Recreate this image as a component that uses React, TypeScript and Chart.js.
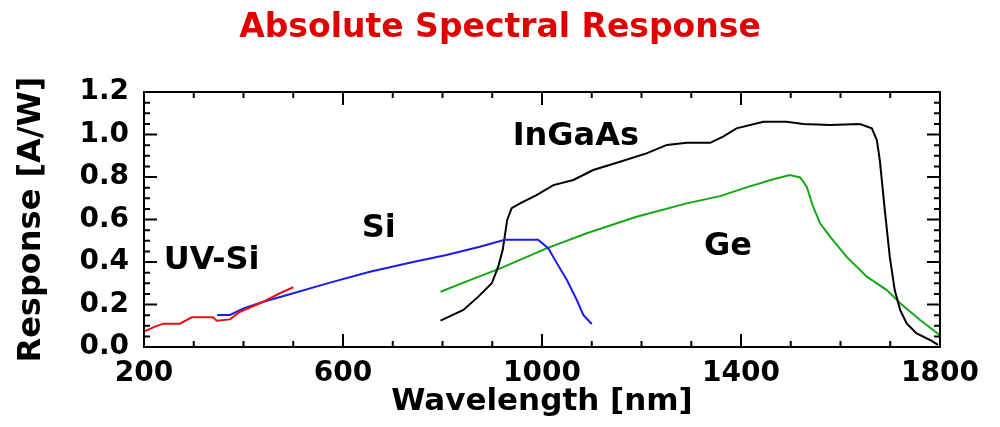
import React, { useEffect, useRef } from "react";
import { Chart, registerables } from "chart.js";

Chart.register(...registerables);

const FONT = "'DejaVu Sans', 'Liberation Sans', sans-serif";

// UV-enhanced silicon
const uvSiNm = [200, 222, 239, 272, 296, 339, 346, 373, 393, 440, 473, 500];
const uvSiResp = [0.072, 0.096, 0.11, 0.11, 0.14, 0.14, 0.124, 0.13, 0.166, 0.213, 0.253, 0.281];

// Silicon
const siNm = [347, 373, 400, 440, 500, 574, 654, 741, 808, 875, 925, 992, 1013, 1026, 1050, 1070, 1083, 1100];
const siResp = [0.151, 0.151, 0.182, 0.213, 0.253, 0.303, 0.354, 0.4, 0.433, 0.472, 0.505, 0.505, 0.464, 0.41, 0.315, 0.221, 0.151, 0.108];

// Germanium
const geNm = [796, 855, 916, 1009, 1090, 1190, 1291, 1358, 1411, 1465, 1498, 1519, 1532, 1545, 1559, 1579, 1612, 1653, 1693, 1720, 1760, 1800];
const geResp = [0.26, 0.315, 0.37, 0.464, 0.535, 0.613, 0.676, 0.71, 0.751, 0.789, 0.809, 0.798, 0.754, 0.66, 0.582, 0.519, 0.425, 0.331, 0.268, 0.206, 0.127, 0.055];

// InGaAs
const inGaAsNm = [796, 842, 872, 899, 912, 921, 930, 939, 956, 989, 1023, 1063, 1103, 1157, 1210, 1251, 1291, 1338, 1364, 1391, 1445, 1492, 1525, 1579, 1639, 1663, 1673, 1679, 1689, 1699, 1709, 1720, 1733, 1753, 1780, 1796];
const inGaAsResp = [0.124, 0.174, 0.237, 0.3, 0.378, 0.456, 0.598, 0.653, 0.676, 0.715, 0.762, 0.786, 0.833, 0.872, 0.911, 0.951, 0.961, 0.961, 0.99, 1.029, 1.06, 1.06, 1.049, 1.045, 1.049, 1.029, 0.974, 0.88, 0.645, 0.425, 0.268, 0.174, 0.111, 0.064, 0.033, 0.01];

// Axis ticks
const xTickValues = [200, 600, 1000, 1400, 1800];
const yTickValues = [0, 0.2, 0.4, 0.6, 0.8, 1.0, 1.2];

// Curve name labels (anchored in data units)
const curveLabels = ["UV-Si", "Si", "InGaAs", "Ge"];
const curveLabelNm = [336, 672, 1068, 1374];
const curveLabelResp = [0.419, 0.574, 1.007, 0.489];

const toPoints = (xs: number[], ys: number[]) => xs.map((x, i) => ({ x, y: ys[i] }));

const framePlugin = {
  id: "frame",
  afterDatasetsDraw(chart: any) {
    const { ctx, chartArea: a, scales } = chart;
    const xs = scales.x;
    const ys = scales.y;
    ctx.save();
    ctx.strokeStyle = "#000";
    ctx.lineWidth = 2;
    ctx.strokeRect(a.left, a.top, a.right - a.left, a.bottom - a.top);
    ctx.beginPath();
    for (let v = 200; v <= 1800; v += 100) {
      const px = xs.getPixelForValue(v);
      const len = xTickValues.includes(v) ? 13 : 6;
      ctx.moveTo(px, a.bottom);
      ctx.lineTo(px, a.bottom - len);
      ctx.moveTo(px, a.top);
      ctx.lineTo(px, a.top + len);
    }
    for (let i = 0; i <= 24; i++) {
      const py = ys.getPixelForValue(i * 0.05);
      const len = i % 4 === 0 ? 13 : 6;
      ctx.moveTo(a.left, py);
      ctx.lineTo(a.left + len, py);
      ctx.moveTo(a.right, py);
      ctx.lineTo(a.right - len, py);
    }
    ctx.stroke();

    const size = 32;
    ctx.font = `bold ${size}px ${FONT}`;
    ctx.fillStyle = "#000";
    ctx.textAlign = "center";
    ctx.textBaseline = "alphabetic";
    curveLabels.forEach((t, i) => {
      const px = xs.getPixelForValue(curveLabelNm[i]);
      const py = ys.getPixelForValue(curveLabelResp[i]);
      ctx.fillText(t, px, py + size * 0.36);
    });
    ctx.restore();
  },
};

export default function App() {
  const ref = useRef<HTMLCanvasElement | null>(null);

  useEffect(() => {
    document.body.style.margin = "0";
    const canvas = ref.current;
    if (!canvas) return;
    const lineDs = (label: string, xs: number[], ys: number[], color: string, order: number) => ({
      label,
      data: toPoints(xs, ys),
      borderColor: color,
      backgroundColor: color,
      borderWidth: 2,
      pointRadius: 0,
      tension: 0,
      fill: false,
      order,
      yAxisID: "y",
    });
    const chart = new Chart(canvas, {
      type: "line",
      data: {
        datasets: [
          lineDs("UV-Si", uvSiNm, uvSiResp, "#e81010", 0),
          lineDs("Si", siNm, siResp, "#1c1ce8", 1),
          lineDs("InGaAs", inGaAsNm, inGaAsResp, "#000000", 2),
          lineDs("Ge", geNm, geResp, "#14a814", 3),
        ],
      },
      options: {
        responsive: false,
        animation: false,
        devicePixelRatio: 1,
        layout: { padding: 0 },
        plugins: {
          legend: { display: false },
          tooltip: { enabled: false },
          title: {
            display: true,
            text: "Absolute Spectral Response",
            color: "#e00000",
            font: { family: FONT, size: 33, weight: "bold" },
            padding: { top: 9, bottom: 43.4 },
          },
        },
        scales: {
          x: {
            type: "linear",
            min: 200,
            max: 1800,
            border: { display: false },
            grid: { display: false, drawTicks: false },
            afterBuildTicks: (s: any) => {
              s.ticks = xTickValues.map((v) => ({ value: v }));
            },
            ticks: {
              color: "#000",
              padding: 10,
              maxRotation: 0,
              autoSkip: false,
              font: { family: FONT, size: 28, weight: "bold" },
              callback: (v: any) => String(v),
            },
            title: {
              display: true,
              text: "Wavelength [nm]",
              color: "#000",
              font: { family: FONT, size: 31, weight: "bold" },
              padding: { top: 0, bottom: 6 },
            },
            afterFit: (s: any) => {
              s.height = 80;
            },
          },
          y: {
            type: "linear",
            min: 0,
            max: 1.2,
            border: { display: false },
            grid: { display: false, drawTicks: false },
            afterBuildTicks: (s: any) => {
              s.ticks = yTickValues.map((v) => ({ value: v }));
            },
            ticks: {
              color: "#000",
              padding: 15,
              autoSkip: false,
              font: { family: FONT, size: 28, weight: "bold" },
              callback: (v: any) => Number(v).toFixed(1),
            },
            title: {
              display: true,
              text: "Response [A/W]",
              color: "#000",
              font: { family: FONT, size: 32, weight: "bold" },
              padding: { top: 12, bottom: 0 },
            },
            afterFit: (s: any) => {
              s.width = 144;
            },
          },
          yRight: {
            type: "linear",
            position: "right",
            min: 0,
            max: 1.2,
            border: { display: false },
            grid: { display: false, drawTicks: false },
            ticks: { display: false },
            afterFit: (s: any) => {
              s.width = 60;
            },
          },
        },
      },
      plugins: [framePlugin],
    });
    return () => chart.destroy();
  }, []);

  return <canvas ref={ref} width={1000} height={427} style={{ display: "block" }} />;
}
